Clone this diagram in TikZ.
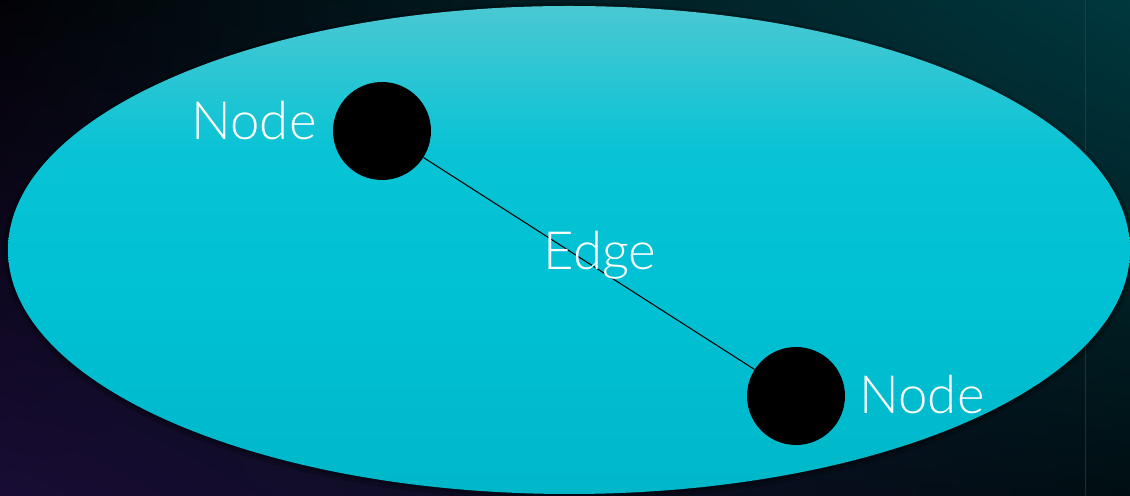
\documentclass[tikz,border=0pt]{standalone}
\usepackage{fontspec}
\setmainfont{Lato Light}
\usepackage{xcolor}
\usepackage{tikz}
\usetikzlibrary{positioning,shadings}

\definecolor{bgtl}{RGB}{2,2,6}
\definecolor{bgtr}{RGB}{0,56,62}
\definecolor{bgbl}{RGB}{24,12,52}
\definecolor{bgbr}{RGB}{0,14,18}
\pgfdeclareverticalshading{ovalfill}{100bp}{
  rgb(0bp)=(0,0.72,0.79);
  rgb(25bp)=(0,0.72,0.79);
  rgb(45bp)=(0,0.755,0.83);
  rgb(60bp)=(0.03,0.765,0.835);
  rgb(75bp)=(0.29,0.785,0.825);
  rgb(100bp)=(0.29,0.785,0.825)}

\begin{document}
\begin{tikzpicture}[
  x=0.02cm,
  y=0.02cm,
  dot/.style={circle,fill=black,minimum size=1.96cm,inner sep=0pt},
  lbl/.style={font=\fontsize{30}{35}\selectfont,text=white,anchor=base,inner sep=0pt},
  link/.style={draw=black,line width=0.6pt}
]
  \useasboundingbox (0,0) rectangle (1130,496);
  % background
  \shade[upper left=bgtl,upper right=bgtr,lower left=bgbl,lower right=bgbr]
    (0,0) rectangle (1130,496);
  \draw[color=bgtr!80!white!85!black,opacity=0.5,line width=0.5pt] (1085,0) -- (1085,496);
  % graph area
  \fill[black,opacity=0.2] (569,244) ellipse [x radius=566,y radius=249];
  \fill[black,opacity=0.2] (569,245) ellipse [x radius=563,y radius=246];
  \shade[shading=ovalfill] (569,246) ellipse [x radius=561,y radius=244];
  \node[dot] (nodeA) at (382,365) {};
  \node[dot] (nodeB) at (796,100) {};
  \draw[link] (nodeA) -- (nodeB);
  \node[lbl] (labA) at (254,356) {Node};
  \node[lbl] (labB) at (922,82) {Node};
  \node[lbl] (labE) at (600,226) {Edge};
\end{tikzpicture}
\end{document}
